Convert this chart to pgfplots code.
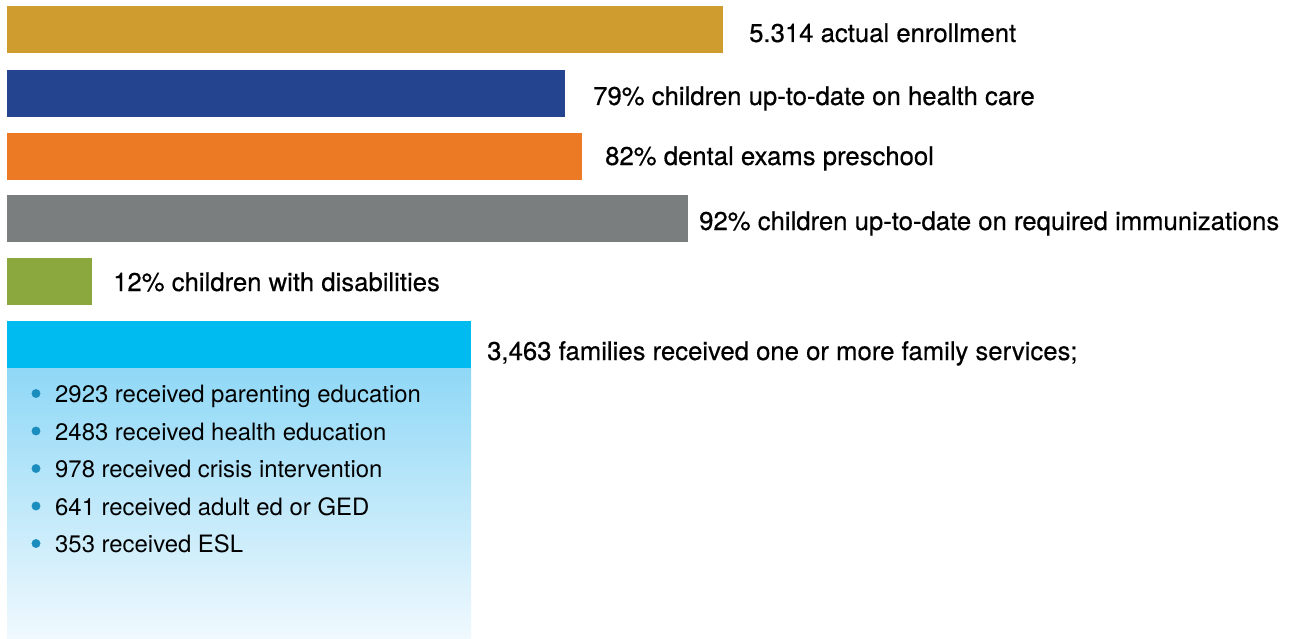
\documentclass[border=0pt]{standalone}
\usepackage{fontspec}
\setmainfont{TeX Gyre Heros}
\newfontfamily\medfont{TeX Gyre Heros}[FakeBold=0.45]
\usepackage{pgfplots}
\pgfplotsset{compat=1.18}

\definecolor{cgold}{HTML}{CE9C2F}
\definecolor{cblue}{HTML}{25448F}
\definecolor{corange}{HTML}{EC7A25}
\definecolor{cgray}{HTML}{7B7E7E}
\definecolor{cgreen}{HTML}{8BA83F}
\definecolor{ccyan}{HTML}{00BBF0}
\definecolor{gradtop}{HTML}{8FD8F6}
\definecolor{gradbot}{HTML}{F0F9FE}
\definecolor{cbullet}{HTML}{1A8DBE}

\newcommand{\lab}{\medfont\fontsize{25.7}{30}\selectfont}
\newcommand{\blt}{\fontsize{23.9}{28}\selectfont}

\begin{document}
\begin{tikzpicture}
\begin{axis}[
  width=1297pt, height=639pt, scale only axis,
  xmin=-7, xmax=1290,
  ymin=0, ymax=639, y dir=reverse,
  axis line style={draw=none}, ticks=none,
  xbar, bar shift=0pt, bar width=47,
  clip=false,
]
% bars: length in px from the left edge, centre row in px
\addplot[draw=none, fill=cgold]   coordinates {(716,30)};
\addplot[draw=none, fill=cblue]   coordinates {(558,93.5)};
\addplot[draw=none, fill=corange] coordinates {(575,156.5)};
\addplot[draw=none, fill=cgray]   coordinates {(681,218.5)};
\addplot[draw=none, fill=cgreen]  coordinates {(85,281)};
% family services panel
\addplot[draw=none, top color=gradtop, bottom color=gradbot, bar width=271]
  coordinates {(464,503.5)};
\addplot[draw=none, fill=ccyan]   coordinates {(464,344.5)};
% list bullets
\addplot[only marks, mark=*, mark size=4.2pt, color=cbullet]
  coordinates {(29,393.5) (29,431) (29,468.5) (29,506) (29,543.5)};

\begin{scope}[every node/.style={anchor=base west, inner xsep=0pt}]
\node at (axis cs:742,42)  {\lab 5.314 actual enrollment};
\node at (axis cs:586,105) {\lab 79\% children up-to-date on health care};
\node at (axis cs:598,165) {\lab 82\% dental exams preschool};
\node at (axis cs:692,230) {\lab 92\% children up-to-date on required immunizations};
\node at (axis cs:106,291) {\lab 12\% children with disabilities};
\node at (axis cs:480,360) {\lab 3,463 families received one or more family services;};
\end{scope}

\foreach \t/\yy in {2923 received parenting education/402,
                    2483 received health education/440,
                    978 received crisis intervention/477,
                    641 received adult ed or GED/515,
                    353 received ESL/552}{
  \edef\tmp{\noexpand\node[anchor=base west, inner xsep=0pt] at (axis cs:48,\yy) {\noexpand\blt{}\t};}
  \tmp
}
\end{axis}
\end{tikzpicture}
\end{document}
